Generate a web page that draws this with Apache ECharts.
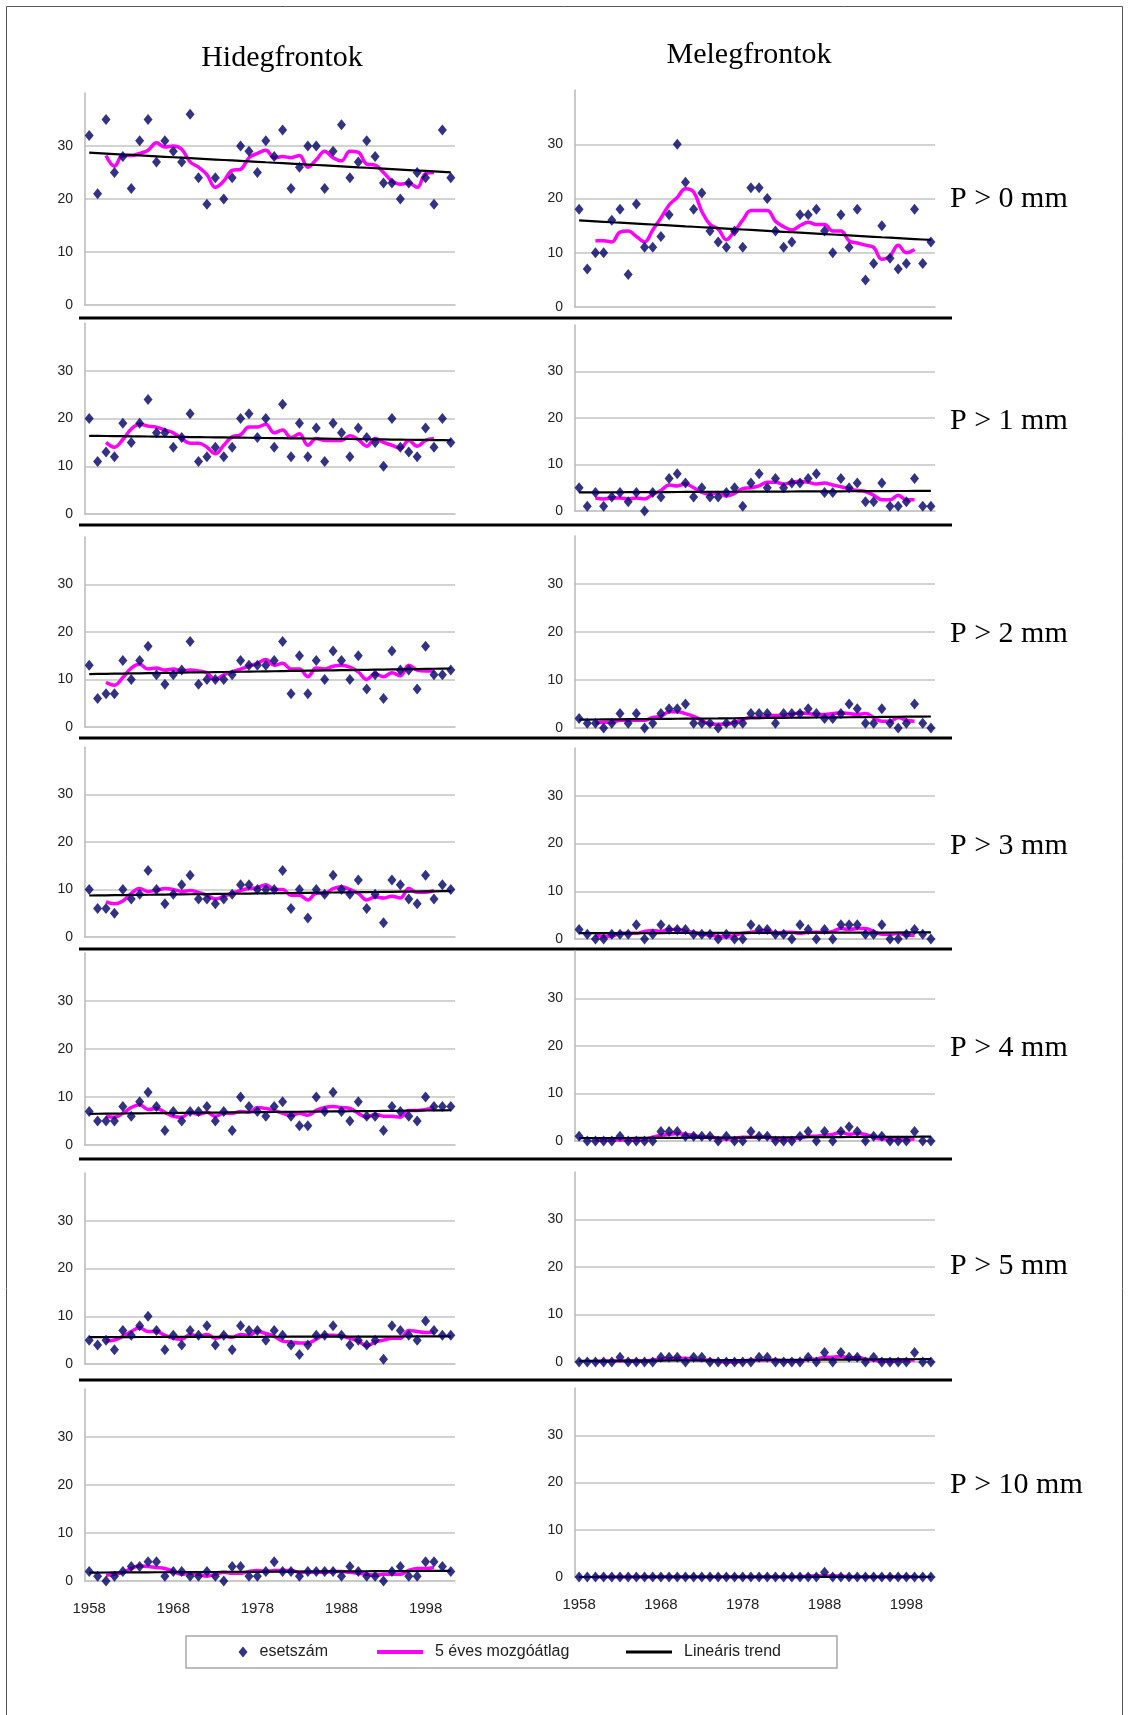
<!DOCTYPE html>
<html><head><meta charset="utf-8">
<script src="https://cdn.jsdelivr.net/npm/echarts@6/dist/echarts.min.js"></script>
<style>html,body{margin:0;padding:0;background:#fff}#c{width:1129px;height:1715px}</style>
</head><body><div id="c"></div>
<script>
const years = [1958,1959,1960,1961,1962,1963,1964,1965,1966,1967,1968,1969,1970,1971,1972,1973,1974,1975,1976,1977,1978,1979,1980,1981,1982,1983,1984,1985,1986,1987,1988,1989,1990,1991,1992,1993,1994,1995,1996,1997,1998,1999,2000,2001];
const yTicks = [0,10,20,30];
const colTitles = ['Hidegfrontok','Melegfrontok'];
const rowLabels = ['P > 0 mm','P > 1 mm','P > 2 mm','P > 3 mm','P > 4 mm','P > 5 mm','P > 10 mm'];
const seriesNames = ['esetszám','5 éves mozgóátlag','Lineáris trend'];

// Hidegfrontok (cold fronts)
const coldP0  = [32,21,35,25,28,22,31,35,27,31,29,27,36,24,19,24,20,24,30,29,25,31,28,33,22,26,30,30,22,29,34,24,27,31,28,23,23,20,23,25,24,19,33,24];
const coldP1  = [20,11,13,12,19,15,19,24,17,17,14,16,21,11,12,14,12,14,20,21,16,20,14,23,12,19,12,18,11,19,17,12,18,16,15,10,20,14,13,12,18,14,20,15];
const coldP2  = [13,6,7,7,14,10,14,17,11,9,11,12,18,9,10,10,10,11,14,13,13,13,14,18,7,15,7,14,10,16,14,10,15,8,11,6,16,12,12,8,17,11,11,12];
const coldP3  = [10,6,6,5,10,8,9,14,10,7,9,11,13,8,8,7,8,9,11,11,10,10,10,14,6,10,4,10,9,13,10,9,12,6,9,3,12,11,8,7,13,8,11,10];
const coldP4  = [7,5,5,5,8,6,9,11,8,3,7,5,7,7,8,5,7,3,10,8,7,6,8,9,6,4,4,10,7,11,7,5,9,6,6,3,8,7,6,5,10,8,8,8];
const coldP5  = [5,4,5,3,7,6,8,10,7,3,6,4,7,6,8,4,6,3,8,7,7,5,7,6,4,2,4,6,6,8,6,4,5,4,5,1,8,7,6,5,9,7,6,6];
const coldP10 = [2,1,0,1,2,3,3,4,4,1,2,2,1,1,2,1,0,3,3,1,1,2,4,2,2,1,2,2,2,2,1,3,2,1,1,0,2,3,1,1,4,4,3,2];
// Melegfrontok (warm fronts)
const warmP0  = [18,7,10,10,16,18,6,19,11,11,13,17,30,23,18,21,14,12,11,14,11,22,22,20,14,11,12,17,17,18,14,10,17,11,18,5,8,15,9,7,8,18,8,12];
const warmP1  = [5,1,4,1,3,4,2,4,0,4,3,7,8,6,3,5,3,3,4,5,1,6,8,5,7,5,6,6,7,8,4,4,7,5,6,2,2,6,1,1,2,7,1,1];
const warmP2  = [2,1,1,0,1,3,1,3,0,1,3,4,4,5,1,1,1,0,1,1,1,3,3,3,1,3,3,3,4,3,2,2,3,5,4,1,1,4,1,0,1,5,1,0];
const warmP3  = [2,1,0,0,1,1,1,3,0,1,3,2,2,2,1,1,1,0,1,0,0,3,2,2,1,1,0,3,2,0,2,0,3,3,3,1,1,3,0,0,1,2,1,0];
const warmP4  = [1,0,0,0,0,1,0,0,0,0,2,2,2,1,1,1,1,0,1,0,0,2,1,1,0,0,0,1,2,0,2,0,2,3,2,0,1,1,0,0,0,2,0,0];
const warmP5  = [0,0,0,0,0,1,0,0,0,0,1,1,1,0,1,1,0,0,0,0,0,0,1,1,0,0,0,0,1,0,2,0,2,1,1,0,1,0,0,0,0,2,0,0];
const warmP10 = [0,0,0,0,0,0,0,0,0,0,0,0,0,0,0,0,0,0,0,0,0,0,0,0,0,0,0,0,0,0,1,0,0,0,0,0,0,0,0,0,0,0,0,0];

const coldData = [coldP0,coldP1,coldP2,coldP3,coldP4,coldP5,coldP10];
const warmData = [warmP0,warmP1,warmP2,warmP3,warmP4,warmP5,warmP10];

// derived series: centred 5-year moving average and least-squares linear trend
function movingAvg(a){
  return a.map((v,i)=>{
    if(i<2||i>a.length-3) return null;
    let s=0; for(let k=i-2;k<=i+2;k++) s+=a[k];
    return +(s/5).toFixed(3);
  });
}
function trend(a){
  const n=a.length; let sx=0,sy=0,sxx=0,sxy=0;
  a.forEach((v,i)=>{sx+=i;sy+=v;sxx+=i*i;sxy+=i*v;});
  const b=(n*sxy-sx*sy)/(n*sxx-sx*sx), c=(sy-b*sx)/n;
  return a.map((v,i)=>+(c+b*i).toFixed(3));
}

// layout (pixels)
const colLeft = [85,575], colWidth = [370,360];
const rowsL = [[93,212],[323,191],[537,190],[747,190],[953,192],[1173,191],[1389,192]];
const rowsR = [[90,217],[325,186],[536,192],[748,191],[951,190],[1172,190],[1388,189]];
const sepY = [318,525,738,949,1159,1380];
const rowLabelY = [199,421,634,846,1048,1266,1485];

const grid=[], xAxis=[], yAxis=[], series=[];
const gray='#b8b8b8';
for(let c=0;c<2;c++){
  for(let r=0;r<7;r++){
    const idx=grid.length;
    const rr = c===0?rowsL[r]:rowsR[r];
    grid.push({left:colLeft[c], top:rr[0], width:colWidth[c], height:rr[1], containLabel:false});
    xAxis.push({type:'category', gridIndex:idx, data:years, boundaryGap:true,
      axisLine:{show:true, lineStyle:{color:gray, width:1.5}}, axisTick:{show:false},
      axisLabel:{show:r===6, interval:9, margin:20, fontSize:15, color:'#222', fontFamily:'Liberation Sans, Arial, sans-serif'},
      splitLine:{show:false}});
    yAxis.push({type:'value', gridIndex:idx, min:0, max:40, interval:10,
      axisLine:{show:true, lineStyle:{color:gray, width:1.5}}, axisTick:{show:false},
      axisLabel:{margin:12, fontSize:14, color:'#222', showMaxLabel:false, fontFamily:'Liberation Sans, Arial, sans-serif',
        formatter:v=>yTicks.includes(v)?String(v):''},
      splitLine:{show:true, showMinLine:false, showMaxLine:false, lineStyle:{color:'#c4c4c4', width:1.5}}});
    const d = c===0?coldData[r]:warmData[r];
    series.push({type:'scatter', name:seriesNames[0], xAxisIndex:idx, yAxisIndex:idx, data:d,
      symbol:'diamond', symbolSize:[9,11], itemStyle:{color:'#000068'}, z:5});
    series.push({type:'line', name:seriesNames[1], xAxisIndex:idx, yAxisIndex:idx, data:movingAvg(d),
      smooth:0.4, showSymbol:false, connectNulls:false, itemStyle:{color:'#ff00ff'},
      lineStyle:{color:'#ff00ff', width:3.5}, z:3});
    series.push({type:'line', name:seriesNames[2], xAxisIndex:idx, yAxisIndex:idx, data:trend(d),
      showSymbol:false, itemStyle:{color:'#000'}, lineStyle:{color:'#000', width:2.2}, z:4});
  }
}

const graphic=[];
graphic.push({type:'rect', shape:{x:6.5,y:6.5,width:1116,height:1720}, style:{fill:null, stroke:'#555', lineWidth:1}, silent:true});
sepY.forEach(y=>graphic.push({type:'line', shape:{x1:79,y1:y,x2:952,y2:y}, style:{stroke:'#000', lineWidth:3}, silent:true}));
graphic.push({type:'text', x:282, y:58, style:{text:colTitles[0], font:'30px "Liberation Serif", "Times New Roman", serif', fill:'#000', textAlign:'center', textVerticalAlign:'middle'}});
graphic.push({type:'text', x:749, y:55, style:{text:colTitles[1], font:'30px "Liberation Serif", "Times New Roman", serif', fill:'#000', textAlign:'center', textVerticalAlign:'middle'}});
rowLabels.forEach((t,i)=>graphic.push({type:'text', x:950, y:rowLabelY[i], style:{text:t, font:'30px "Liberation Serif", "Times New Roman", serif', fill:'#000', textAlign:'left', textVerticalAlign:'middle'}}));
graphic.push({type:'rect', shape:{x:186,y:1636,width:651,height:32}, style:{fill:'#fff', stroke:'#a8a8a8', lineWidth:1.5}, z:-1, silent:true});

const legTxt={fontSize:16, color:'#222', fontFamily:'Liberation Sans, Arial, sans-serif', padding:[0,0,0,7], lineHeight:20};
const legend=[
  {data:[{name:seriesNames[0], icon:'diamond'}], left:238.5, top:1642, itemWidth:9, itemHeight:11, padding:0, textStyle:legTxt, selectedMode:false},
  {data:[{name:seriesNames[1], icon:'rect'}], left:377, top:1642, itemWidth:46, itemHeight:4, padding:0, textStyle:legTxt, selectedMode:false},
  {data:[{name:seriesNames[2], icon:'rect'}], left:626, top:1642, itemWidth:46, itemHeight:3, padding:0, textStyle:legTxt, selectedMode:false}
];

const chart=echarts.init(document.getElementById('c'),null,{renderer:'canvas'});
chart.setOption({animation:false, backgroundColor:'#fff', grid, xAxis, yAxis, series, legend, graphic});
</script></body></html>
